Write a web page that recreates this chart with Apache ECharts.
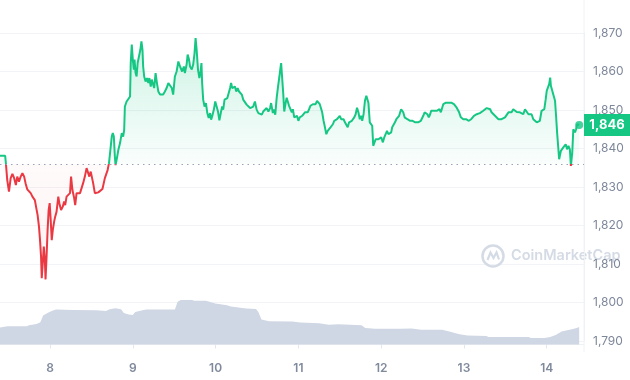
<!DOCTYPE html>
<html><head><meta charset="utf-8">
<script src="https://cdn.jsdelivr.net/npm/echarts@6/dist/echarts.min.js"></script>
<style>html,body{margin:0;padding:0;background:#fff}#c{width:630px;height:380px}</style>
</head><body><div id="c"></div>
<script>
// time in hours since Jun 7 00:00
const times = [
9.5,11.0,11.2,11.6,12.1,12.6,13.1,13.6,14.1,14.5,
15.0,15.5,16.0,16.5,16.9,17.4,17.9,18.4,18.9,19.2,
19.6,20.1,20.4,20.8,21.1,21.4,21.6,21.9,22.2,22.5,
22.7,23.0,23.3,23.6,23.9,24.2,24.5,24.8,25.2,25.5,
25.9,26.4,26.7,27.2,27.7,28.1,28.4,28.8,29.3,29.8,
30.1,30.5,31.0,31.3,31.7,32.2,32.7,33.2,33.6,34.1,
34.6,35.0,35.4,35.8,36.2,36.5,37.0,37.5,38.0,38.5,
39.2,39.9,40.7,41.1,41.4,41.9,42.2,42.5,42.8,43.0,
43.4,43.8,44.3,44.8,45.2,45.5,45.7,46.2,46.7,47.2,
47.4,47.7,48.0,48.3,48.5,48.8,49.1,49.4,49.8,50.2,
50.5,50.8,51.0,51.3,51.7,52.1,52.5,52.8,53.2,53.5,
53.9,54.2,54.6,55.0,55.4,55.9,56.4,56.8,57.3,57.8,
58.3,58.8,59.3,59.7,60.2,60.7,61.2,61.7,62.0,62.3,
62.8,63.1,63.6,63.9,64.3,64.6,65.1,65.5,65.9,66.2,
66.5,66.9,67.3,67.6,67.9,68.1,68.4,68.8,69.2,69.6,
70.0,70.4,70.7,71.0,71.5,71.9,72.3,72.7,73.1,73.5,
73.9,74.2,74.6,75.0,75.4,75.8,76.2,76.5,76.8,77.2,
77.6,78.0,78.4,78.8,79.2,79.6,80.0,80.5,81.0,81.5,
82.0,82.5,82.9,83.4,83.9,84.4,84.9,85.4,85.8,86.3,
86.8,87.3,87.8,88.1,88.6,88.9,89.3,89.7,90.1,90.5,
90.8,91.0,91.3,91.6,91.9,92.3,92.6,92.9,93.3,93.7,
94.1,94.4,94.8,95.2,95.6,96.0,96.4,96.8,97.1,97.5,
97.9,98.3,98.7,99.1,99.5,99.9,100.2,100.6,101.0,101.4,
101.8,102.2,102.6,102.9,103.3,103.7,104.1,104.5,104.9,105.3,
105.7,106.0,106.4,106.8,107.2,107.6,108.0,108.4,108.7,109.1,
109.5,109.9,110.3,110.7,111.1,111.5,111.8,112.2,112.6,113.0,
113.4,113.8,114.2,114.5,114.9,115.3,115.7,116.0,116.3,116.7,
117.1,117.4,117.7,118.0,118.4,118.8,119.2,119.6,120.0,120.5,
120.9,121.3,121.7,122.1,122.5,122.9,123.2,123.6,124.0,124.4,
124.8,125.2,125.5,125.8,126.1,126.4,126.8,127.2,127.6,128.0,
128.4,128.7,129.1,129.5,129.9,130.3,130.7,131.1,131.5,131.8,
132.2,132.6,133.0,133.4,133.8,134.2,134.5,134.9,135.3,135.7,
136.1,136.5,136.9,137.3,137.6,138.0,138.4,138.8,139.2,139.6,
140.0,140.3,140.7,141.1,141.5,141.9,142.3,142.6,143.1,143.4,
143.8,144.2,144.6,145.0,145.4,145.8,146.1,146.5,146.9,147.2,
147.7,148.2,148.6,149.1,149.6,150.1,150.6,151.1,151.6,152.0,
152.5,153.0,153.5,154.0,154.5,154.9,155.4,155.9,156.4,156.9,
157.3,157.8,158.3,158.8,159.3,159.8,160.2,160.7,161.2,161.7,
162.2,162.7,163.1,163.6,164.1,164.6,165.1,165.6,166.0,166.5,
167.0,167.3,167.7,168.0,168.3,168.7,169.0,169.2,169.6,170.0,
170.4,170.7,171.0,171.3,171.6,171.8,172.1,172.5,172.8,173.1,
173.5,173.9,174.3,174.7,175.0,175.2,175.4,175.7,176.0,176.2,
176.5,176.8,177.1,177.4
];
const prices = [
1838.1,1838.1,1836.2,1831.8,1828.8,1832.3,1833.4,1832.3,1830.5,1832.7,
1831.4,1832.7,1833.6,1832.7,1831.0,1829.4,1829.2,1828.4,1827.5,1827.9,
1826.6,1826.2,1822.7,1819.7,1816.2,1811.9,1806.3,1810.2,1814.5,1811.0,
1806.0,1811.9,1818.8,1824.0,1825.8,1821.4,1816.2,1818.8,1821.0,1822.3,
1823.6,1827.5,1825.8,1824.0,1824.9,1826.2,1825.3,1827.5,1827.9,1828.4,
1832.7,1829.2,1827.1,1825.3,1828.4,1827.9,1828.4,1828.4,1831.0,1832.7,
1834.9,1834.4,1832.7,1834.0,1832.3,1831.0,1828.4,1828.8,1828.6,1828.4,
1829.5,1832.3,1834.4,1836.2,1836.6,1843.1,1844.0,1843.1,1837.9,1835.7,
1837.5,1839.6,1841.4,1844.0,1843.1,1844.8,1850.9,1852.2,1852.7,1853.5,
1862.2,1867.0,1863.1,1860.5,1863.1,1859.6,1858.7,1862.2,1861.8,1865.7,
1867.8,1865.7,1861.3,1858.7,1857.4,1858.3,1857.0,1858.3,1856.1,1857.9,
1856.6,1855.7,1859.6,1857.0,1854.8,1854.0,1853.5,1854.0,1854.8,1855.7,
1857.0,1857.4,1855.7,1854.0,1858.7,1860.0,1862.6,1861.3,1861.8,1860.0,
1861.3,1859.6,1861.8,1864.4,1863.1,1861.3,1860.5,1861.8,1864.8,1868.7,
1865.7,1860.5,1858.3,1859.6,1862.2,1857.0,1852.7,1850.9,1851.8,1849.2,
1847.9,1849.2,1847.5,1848.3,1850.1,1852.2,1850.9,1849.6,1847.3,1849.2,
1850.9,1850.1,1852.7,1853.1,1853.1,1853.5,1855.7,1857.0,1855.7,1855.3,
1856.1,1854.8,1855.7,1854.8,1855.3,1854.0,1852.7,1852.2,1851.4,1850.9,
1850.5,1850.1,1850.9,1852.2,1850.1,1849.2,1849.6,1848.8,1849.6,1849.2,
1850.5,1849.6,1850.5,1851.8,1849.2,1850.1,1848.8,1853.1,1856.1,1858.7,
1860.9,1862.2,1858.3,1854.4,1849.6,1851.8,1853.2,1852.8,1851.1,1851.5,
1849.4,1850.2,1848.1,1847.6,1848.5,1847.2,1848.1,1847.6,1848.5,1848.9,
1849.4,1849.8,1849.4,1850.2,1851.1,1851.1,1851.5,1851.9,1851.5,1852.4,
1852.4,1851.5,1851.1,1849.4,1847.2,1845.5,1843.7,1844.6,1845.0,1845.5,
1845.9,1846.3,1847.2,1847.2,1847.6,1847.2,1848.5,1847.6,1848.1,1847.6,
1846.8,1846.3,1845.5,1846.8,1847.2,1847.2,1846.8,1848.1,1848.9,1850.6,
1849.4,1847.6,1848.5,1847.2,1848.9,1852.4,1853.7,1854.1,1851.9,1846.8,
1846.3,1845.9,1840.7,1840.3,1842.4,1842.0,1842.4,1842.0,1842.9,1841.6,
1842.9,1843.3,1844.6,1843.7,1843.3,1844.2,1845.5,1845.0,1846.8,1847.6,
1847.6,1848.5,1849.4,1850.2,1850.6,1849.4,1848.1,1848.5,1847.6,1847.6,
1847.2,1846.8,1847.2,1847.2,1846.8,1847.2,1846.8,1846.3,1847.2,1847.6,
1848.5,1849.4,1849.8,1848.9,1848.1,1848.9,1849.8,1849.4,1849.8,1849.4,
1849.8,1849.8,1850.2,1849.4,1849.8,1851.5,1851.9,1851.9,1852.4,1851.9,
1852.4,1851.9,1851.9,1851.5,1851.1,1850.6,1850.2,1849.4,1848.1,1847.6,
1847.6,1847.2,1847.6,1847.2,1847.2,1847.6,1847.6,1848.1,1848.5,1849.0,
1848.9,1849.4,1849.2,1849.4,1849.8,1850.2,1850.5,1850.5,1850.2,1849.4,
1848.9,1848.5,1848.5,1847.6,1847.2,1847.6,1847.8,1848.1,1848.5,1849.4,
1849.8,1849.4,1850.2,1849.8,1849.5,1849.8,1849.4,1849.4,1848.9,1850.2,
1849.8,1848.9,1848.5,1848.9,1847.6,1847.2,1846.8,1846.3,1847.2,1849.8,
1849.4,1850.2,1852.8,1855.0,1855.4,1856.7,1858.4,1856.3,1855.0,1853.7,
1852.4,1848.5,1844.2,1840.7,1837.2,1838.1,1839.4,1839.8,1840.3,1839.8,
1841.1,1839.8,1840.7,1839.8,1835.5,1835.1,1839.0,1845.0,1845.5,1844.2,
1845.0,1846.3,1845.9,1846.1
];
const volTimes = [9.5,11.7,17.3,17.9,20.1,21.2,22.0,23.4,24.5,25.7,30.7,31.2,37.4,37.9,40.2,41.3,43.0,44.6,45.4,46.8,48.0,48.7,50.8,51.9,60.2,61.0,61.9,65.2,65.8,69.2,69.7,71.9,75.3,76.4,79.7,80.9,83.7,84.4,85.3,87.5,94.2,96.5,102.0,104.8,107.6,114.3,115.4,118.2,125.5,126.0,128.8,131.6,137.7,140.0,142.7,145.0,150.5,151.1,162.8,163.4,167.3,169.0,170.6,172.3,172.8,175.6,176.7,177.4];
const volumes = [50,53,53,56,60,65,85,93,98,102,101,100,100,97,98,103,106,103,92,88,86,95,100,102,102,125,130,130,128,128,126,120,115,111,107,105,104,95,73,68,67,64,62,58,59,56,48,46,46,49,47,43,43,37,30,26,25,22,22,19,19,22,28,38,41,45,48,51];
const BASELINE = 1836;
const dayTicks = [24,48,72,96,120,144,168];
const dayLabels = ['8','9','10','11','12','13','14'];

const GREEN = '#16c784', RED = '#ea3943';
const pricePts = times.map((t,i)=>[t, prices[i]]);
const upPts = times.map((t,i)=>[t, Math.max(prices[i], BASELINE)]);
const downPts = times.map((t,i)=>[t, Math.min(prices[i], BASELINE)]);
const volPts = volTimes.map((t,i)=>[t, volumes[i]]);
const last = [times[times.length-1], prices[prices.length-1]];

const chart = echarts.init(document.getElementById('c'), null, {renderer:'canvas'});
const font = 'Inter, "Noto Sans", sans-serif';
chart.setOption({
  animation:false,
  textStyle:{fontFamily:font},
  grid:[{left:0,right:46,top:33,height:308},{left:0,right:46,bottom:28,height:60}],
  xAxis:[
    {gridIndex:0,type:'value',min:9.5,max:178.8,show:false},
    {gridIndex:1,type:'value',min:9.5,max:178.8,
     axisLine:{show:true,lineStyle:{color:'#eff2f5'}},
     axisTick:{show:true,customValues:dayTicks,length:4,lineStyle:{color:'#e3e7ee'}},
     axisLabel:{customValues:dayTicks,margin:10,color:'#808a9d',fontWeight:600,fontSize:12,fontFamily:font,
       formatter:v=>dayLabels[dayTicks.indexOf(Math.round(v))]},
     splitLine:{show:false}}
  ],
  yAxis:[
    {gridIndex:0,type:'value',position:'right',min:1790,max:1870,interval:10,
     axisLine:{show:true,lineStyle:{color:'#eff2f5'}},axisTick:{show:false},
     axisLabel:{margin:9,color:'#7d879a',fontSize:12,fontFamily:font,formatter:v=>v.toLocaleString('en-US')},
     splitLine:{lineStyle:{color:'#f1f3f6'}}},
    {gridIndex:1,type:'value',min:-22,max:153.5,show:false}
  ],
  series:[
    {type:'line',xAxisIndex:1,yAxisIndex:1,data:volPts,showSymbol:false,silent:true,
     lineStyle:{width:0},itemStyle:{color:'#cfd6e4'},areaStyle:{color:'#cfd6e4',opacity:1},z:1},
    {type:'line',data:upPts,showSymbol:false,silent:true,lineStyle:{width:0},
     areaStyle:{origin:BASELINE,color:new echarts.graphic.LinearGradient(0,0,0,1,[
       {offset:0,color:'rgba(22,199,132,0.30)'},{offset:1,color:'rgba(22,199,132,0.03)'}])},
     markLine:{silent:true,symbol:'none',label:{show:false},
       lineStyle:{color:'#9aa3b8',type:[1.5,4],width:1},data:[{yAxis:BASELINE}]},z:2},
    {type:'line',data:downPts,showSymbol:false,silent:true,lineStyle:{width:0},
     areaStyle:{origin:BASELINE,color:new echarts.graphic.LinearGradient(0,0,0,1,[
       {offset:0,color:'rgba(234,57,67,0.03)'},{offset:1,color:'rgba(234,57,67,0.10)'}])},z:2},
    {type:'line',data:pricePts,showSymbol:false,silent:true,lineStyle:{width:2,color:GREEN},z:3},
    {type:'scatter',data:[last],symbolSize:8,itemStyle:{color:GREEN},silent:true,z:4}
  ]
});
// split the price line colour at the baseline, and place the price badge, using the axis scale
const by = chart.convertToPixel({yAxisIndex:0}, BASELINE);
const py = chart.convertToPixel({yAxisIndex:0}, last[1]);
const H = 380, f = by / H;
chart.setOption({
  series:[{},{},{},{lineStyle:{color:new echarts.graphic.LinearGradient(0,0,0,H,[
    {offset:0,color:GREEN},{offset:f,color:GREEN},{offset:f,color:RED},{offset:1,color:RED}],true)}}],
  graphic:[
    {type:'line',shape:{x1:584,y1:0,x2:584,y2:352},style:{stroke:'#eff2f5',lineWidth:1},z:-1},
    {type:'group',left:480,top:243,z:-1,children:[
      {type:'circle',shape:{cx:12,cy:11,r:10.5},style:{stroke:'#d5dbe5',lineWidth:2.5,fill:'none'}},
      {type:'polyline',shape:{points:[[6.5,15],[9.5,7.5],[12.5,13],[15.5,7.5],[18,14.5]]},style:{stroke:'#d5dbe5',lineWidth:2.2,fill:'none'}},
      {type:'text',x:30,y:11,style:{text:'CoinMarketCap',font:'600 14.5px '+font,fill:'#d5dbe5',verticalAlign:'middle'}}
    ]},
    {type:'rect',shape:{x:584,y:py-11,width:46,height:22},style:{fill:GREEN},z:10},
    {type:'text',x:607,y:py,z:11,style:{text:(Math.round(last[1])).toLocaleString('en-US'),font:'bold 13px '+font,fill:'#fff',align:'center',verticalAlign:'middle'}}
  ]
});
</script></body></html>
